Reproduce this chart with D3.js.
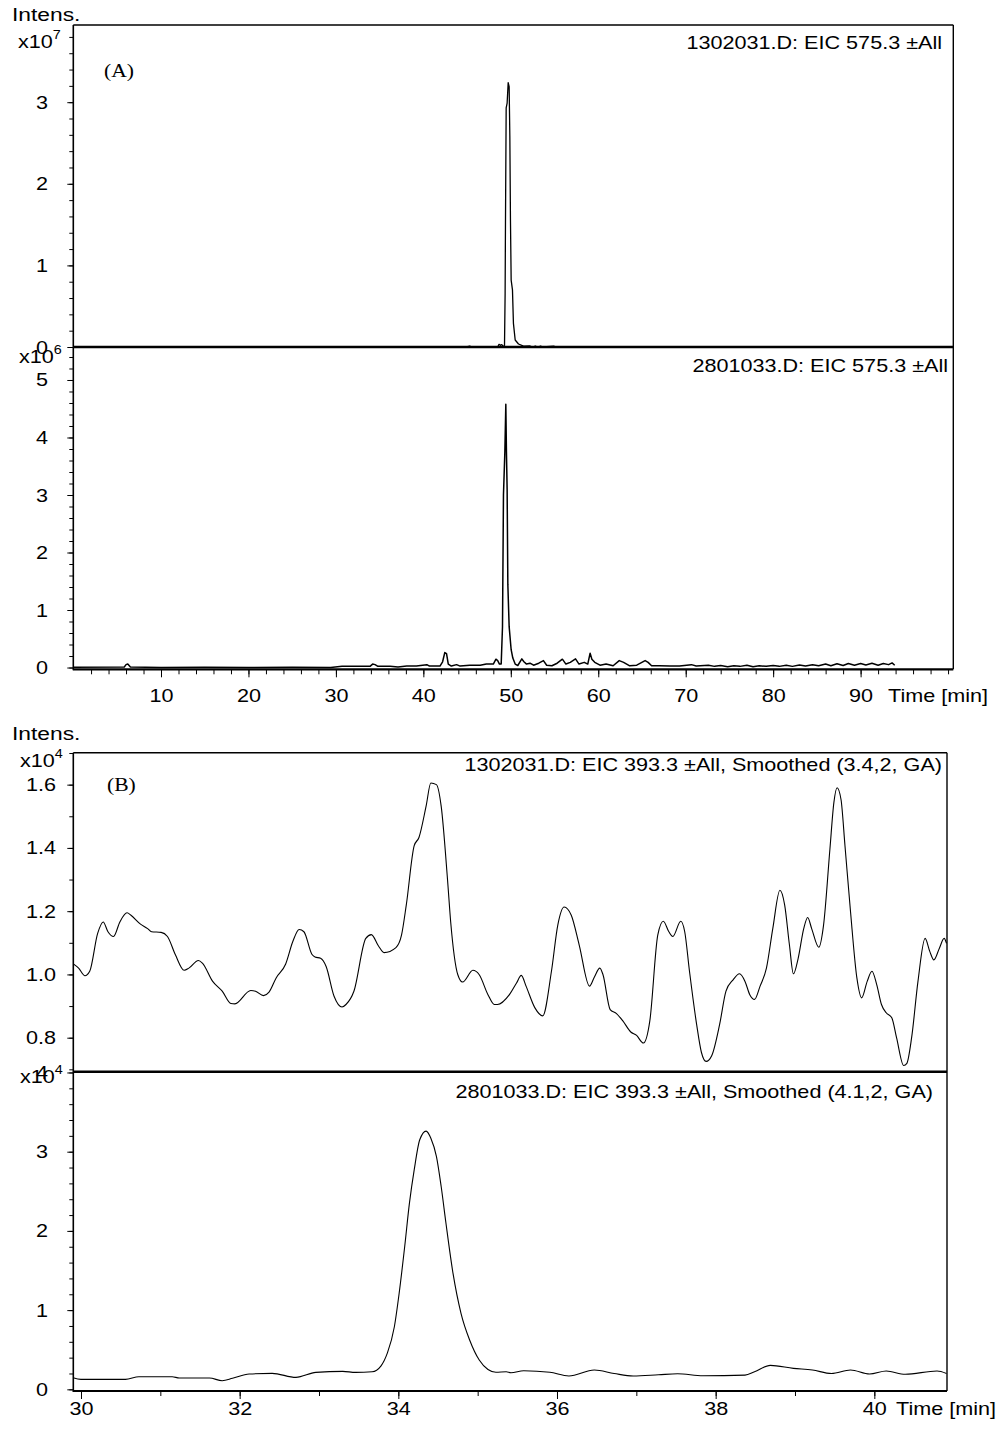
<!DOCTYPE html>
<html>
<head>
<meta charset="utf-8">
<script src="https://cdn.jsdelivr.net/npm/d3@7"></script>
<style>
    body { margin: 0; background: #fff; }
    svg text { font-family: 'Liberation Sans', Arial, Helvetica, sans-serif; fill: #000; }
</style>
</head>
<body>
<svg id="vis" width="999" height="1429"></svg>
<script>
// (A) EIC 575.3, sample 1302031.D, intensity x10^7
const timeA1 = [0, 44.9, 45.3, 45.6, 48.5, 48.65, 48.8, 48.97, 49.15, 49.28, 49.35, 49.39, 49.47, 49.58, 49.7, 49.81,
    49.89, 49.96, 50.04, 50.19, 50.3, 50.5, 50.88, 51.45, 52.2, 52.5, 52.8, 53.1, 53.4, 53.7, 54.9, 55.2, 93.9];
const intA1 = [0, 0, 0.012, 0, 0, 0.033, 0.02, 0.03, 0.005, 0.02, 0.66, 1.52, 2.93, 2.99, 3.24, 3.19,
    2.58, 1.56, 0.82, 0.7, 0.29, 0.086, 0.037, 0.01, 0.012, 0, 0.012, 0, 0.012, 0, 0.01, 0, 0];

// (A) EIC 575.3, sample 2801033.D, intensity x10^6
const timeA2 = [0, 5.8, 6.0, 6.2, 6.5, 10, 15, 20, 25, 29.4, 30.7, 33.9, 34.2, 34.48, 34.8, 36.2, 37.1, 38.1, 39.2,
    40.4, 40.7, 41.9, 42.2, 42.45, 42.65, 42.85, 43.2, 43.8, 44.2, 45.3, 46.5, 47.2, 48.0, 48.3, 48.5, 48.7, 48.9,
    49.05, 49.16, 49.32, 49.43, 49.5, 49.58, 49.66, 49.81, 50.04, 50.23, 50.5, 50.8, 51.26, 51.5, 51.8, 52.2, 52.6,
    53.2, 53.73, 54.1, 54.7, 55.3, 55.9, 56.3, 56.8, 57.4, 57.8, 58.4, 58.8, 59.07, 59.27, 59.6, 60.2, 60.9, 61.7,
    62.4, 62.9, 63.6, 64.4, 65.36, 65.7, 66.1, 67.0, 68.2, 69.3, 70.65, 71.2, 72.6, 73.3, 74, 74.8, 75.5, 76.2, 77,
    77.7, 78.4, 79.2, 80, 80.7, 81.5, 82.2, 83, 83.7, 84.5, 85.2, 86, 86.6, 87.3, 88, 88.6, 89.3, 90, 90.6, 91.3,
    92, 92.6, 93.2, 93.6, 93.9];
const intA2 = [0.005, 0.01, 0.05, 0.06, 0.01, 0, 0.005, 0, 0.005, 0, 0.02, 0.02, 0.06, 0.05, 0.02, 0.02, 0.01, 0.025, 0.025,
    0.05, 0.025, 0.025, 0.1, 0.26, 0.24, 0.06, 0.025, 0.05, 0.025, 0.04, 0.04, 0.06, 0.06, 0.145, 0.12, 0.06, 0.06,
    0.71, 3.0, 3.75, 4.58, 3.75, 3.1, 1.45, 0.71, 0.31, 0.165, 0.06, 0.035, 0.15, 0.1, 0.06, 0.075, 0.04,
    0.075, 0.12, 0.04, 0.03, 0.075, 0.145, 0.06, 0.09, 0.15, 0.06, 0.09, 0.06, 0.25, 0.145, 0.09, 0.04, 0.06, 0.03,
    0.12, 0.09, 0.03, 0.04, 0.12, 0.09, 0.03, 0.03, 0.025, 0.025, 0.05, 0.025, 0.04, 0.02, 0.035, 0.015, 0.03, 0.02, 0.04,
    0.015, 0.03, 0.02, 0.035, 0.02, 0.04, 0.02, 0.045, 0.025, 0.05, 0.03, 0.06, 0.03, 0.065, 0.035, 0.07, 0.04, 0.07, 0.045, 0.075,
    0.04, 0.07, 0.05, 0.08, 0.04];

// (B) EIC 393.3 smoothed, sample 1302031.D, intensity x10^4
const timeB1 = [29.89, 29.97, 30.05, 30.11, 30.21, 30.28, 30.34, 30.41, 30.49, 30.58, 30.63, 30.75, 30.84, 30.89, 31.01,
    31.09, 31.19, 31.3, 31.36, 31.48, 31.53, 31.66, 31.78, 31.89, 31.94, 32.14, 32.2, 32.3, 32.37, 32.46, 32.58, 32.67,
    32.75, 32.81, 32.91, 32.95, 33.02, 33.09, 33.19, 33.29, 33.34, 33.44, 33.59, 33.66, 33.75, 33.82, 33.97, 34.04,
    34.1, 34.2, 34.26, 34.35, 34.41, 34.48, 34.54, 34.62, 34.66, 34.75, 34.81, 34.94, 35.02, 35.13, 35.21, 35.25,
    35.4, 35.49, 35.55, 35.61, 35.72, 35.82, 35.93, 36.01, 36.09, 36.18, 36.28, 36.41, 36.47, 36.54, 36.58, 36.67,
    36.75, 36.83, 36.93, 37.0, 37.09, 37.17, 37.27, 37.34, 37.41, 37.46, 37.56, 37.61, 37.67, 37.76, 37.82, 37.88,
    37.95, 38.05, 38.13, 38.22, 38.3, 38.37, 38.43, 38.49, 38.56, 38.64, 38.72, 38.81, 38.87, 38.93, 38.98, 39.04,
    39.11, 39.16, 39.21, 39.3, 39.36, 39.44, 39.49, 39.53, 39.58, 39.63, 39.7, 39.78, 39.84, 39.91, 39.97, 40.03,
    40.09, 40.15, 40.22, 40.28, 40.37, 40.41, 40.47, 40.55, 40.64, 40.7, 40.75, 40.82, 40.88, 40.91];
const intB1 = [1.036, 1.02, 0.996, 1.01, 1.13, 1.166, 1.135, 1.12, 1.166, 1.195, 1.187, 1.159, 1.145, 1.135, 1.133,
    1.12, 1.062, 1.013, 1.02, 1.044, 1.036, 0.978, 0.947, 0.908, 0.907, 0.949, 0.947, 0.933, 0.944, 0.989, 1.033, 1.104,
    1.142, 1.135, 1.064, 1.055, 1.051, 1.025, 0.931, 0.897, 0.905, 0.947, 1.114, 1.126, 1.09, 1.069, 1.085, 1.124,
    1.219, 1.407, 1.433, 1.532, 1.605, 1.6, 1.532, 1.3, 1.166, 0.999, 0.976, 1.013, 0.999, 0.936, 0.905, 0.905,
    0.936, 0.973, 0.997, 0.963, 0.895, 0.869, 1.01, 1.156, 1.213, 1.187, 1.093, 0.963, 0.991, 1.02, 0.999, 0.889,
    0.876, 0.853, 0.818, 0.808, 0.783, 0.853, 1.124, 1.168, 1.135, 1.12, 1.168, 1.135, 1.01, 0.842, 0.754, 0.725,
    0.743, 0.842, 0.947, 0.983, 1.002, 0.978, 0.936, 0.921, 0.963, 1.02, 1.145, 1.266, 1.219, 1.093, 1.002, 1.051,
    1.145, 1.18, 1.145, 1.086, 1.156, 1.396, 1.543, 1.59, 1.553, 1.407, 1.198, 0.989, 0.926, 0.978, 1.01, 0.968,
    0.905, 0.879, 0.863, 0.8, 0.712, 0.719, 0.8, 0.978, 1.114, 1.072, 1.046, 1.083, 1.114, 1.098];

// (B) EIC 393.3 smoothed, sample 2801033.D, intensity x10^4
const timeB2 = [29.9, 30.0, 30.56, 30.73, 31.15, 31.24, 31.62, 31.78, 31.91, 32.12, 32.41, 32.71, 32.96, 33.3, 33.46,
    33.67, 33.78, 33.86, 33.95, 34.01, 34.08, 34.14, 34.2, 34.27, 34.35, 34.41, 34.48, 34.54, 34.6, 34.69, 34.79,
    34.9, 35.02, 35.13, 35.23, 35.36, 35.42, 35.58, 35.91, 36.15, 36.47, 36.72, 36.96, 37.28, 37.52, 37.84, 38.37,
    38.49, 38.69, 38.98, 39.22, 39.46, 39.7, 39.94, 40.15, 40.39, 40.79, 40.91];
const intB2 = [0.146, 0.126, 0.126, 0.159, 0.159, 0.143, 0.143, 0.109, 0.139, 0.193, 0.202, 0.151, 0.214, 0.227, 0.214,
    0.222, 0.294, 0.454, 0.79, 1.21, 1.8, 2.35, 2.77, 3.15, 3.26, 3.17, 2.94, 2.56, 2.1, 1.46, 0.96,
    0.62, 0.37, 0.25, 0.215, 0.222, 0.21, 0.235, 0.215, 0.168, 0.244, 0.2, 0.168, 0.184, 0.197, 0.172, 0.18,
    0.222, 0.303, 0.265, 0.244, 0.2, 0.244, 0.193, 0.231, 0.19, 0.231, 0.2];

const labelsA = ['1302031.D: EIC 575.3 \u00b1All', '2801033.D: EIC 575.3 \u00b1All'];
const labelsB = ['1302031.D: EIC 393.3 \u00b1All, Smoothed (3.4,2, GA)', '2801033.D: EIC 393.3 \u00b1All, Smoothed (4.1,2, GA)'];
const exponentsA = ['7', '6'];
const exponentsB = ['4', '4'];

const SX = 1.2;   // the source image is stretched horizontally
var svg = d3.select('#vis');

function tickRange(lo, hi, step) {
    var out = [];
    for (var n = Math.ceil(lo / step - 1e-6); n * step <= hi + 1e-6; n++) {
        out.push(+(n * step).toFixed(3));
    }
    return out;
}

function putText(x, y, str, anchor, size, serif) {
    return svg.append('text')
        .attr('transform', 'translate(' + x + ',' + y + ') scale(' + SX + ',1)')
        .attr('text-anchor', anchor)
        .attr('font-size', size)
        .style('font-family', serif ? "'Liberation Serif', 'Times New Roman', serif" : null)
        .text(str);
}

function putExponent(x, y, exp) {
    var t = svg.append('text')
        .attr('transform', 'translate(' + x + ',' + y + ') scale(' + SX + ',1)')
        .attr('font-size', 18);
    t.append('tspan').text('x10');
    t.append('tspan').attr('dy', -9).attr('font-size', 12).text(exp);
}

function yAxis(y, axisX, minorStep, majorStep, fmt, labelX) {
    var d = y.domain();
    svg.append('g')
        .attr('transform', 'translate(' + axisX + ',0)')
        .call(d3.axisLeft(y).tickValues(tickRange(d[0], d[1], minorStep)).tickSize(4).tickFormat(''))
        .call(g => g.select('.domain').remove());
    var major = svg.append('g')
        .attr('transform', 'translate(' + axisX + ',0)')
        .call(d3.axisLeft(y).tickValues(tickRange(d[0], d[1], majorStep)).tickSize(6).tickFormat(fmt))
        .attr('font-size', 18);
    major.select('.domain').remove();
    major.selectAll('text')
        .attr('x', null)
        .attr('dy', null)
        .attr('text-anchor', 'middle')
        .attr('transform', 'translate(' + (labelX - axisX) + ',6) scale(' + SX + ',1)');
}

function xAxis(x, axisY, minorVals, majorVals, labelOffset) {
    svg.append('g')
        .attr('transform', 'translate(0,' + axisY + ')')
        .call(d3.axisBottom(x).tickValues(minorVals).tickSize(5).tickFormat(''))
        .call(g => g.select('.domain').remove());
    var major = svg.append('g')
        .attr('transform', 'translate(0,' + axisY + ')')
        .call(d3.axisBottom(x).tickValues(majorVals).tickSize(8).tickFormat(d3.format('d')))
        .attr('font-size', 18);
    major.select('.domain').remove();
    major.selectAll('text')
        .attr('y', null)
        .attr('dy', null)
        .attr('transform', 'translate(0,' + labelOffset + ') scale(' + SX + ',1)');
}

function trace(x, y, times, values, curve, width, clipId) {
    var pts = times.map((t, i) => [t, values[i]]);
    svg.append('path')
        .datum(pts)
        .attr('clip-path', 'url(#' + clipId + ')')
        .attr('fill', 'none')
        .attr('stroke', '#000')
        .attr('stroke-width', width)
        .attr('stroke-linejoin', 'round')
        .attr('d', d3.line().x(d => x(d[0])).y(d => y(d[1])).curve(curve));
}

function frame(left, right, top, mid, bottom, clipId) {
    svg.append('clipPath').attr('id', clipId)
        .append('rect').attr('x', left).attr('y', top).attr('width', right - left).attr('height', bottom - top);
    var lines = [
        [left, top, right, top, 1.4],
        [right, top, right, bottom, 1.4],
        [left, top, left, bottom + 1, 1.6],
        [left, mid, right, mid, 2.4],
        [left, bottom, right, bottom, 2.2]
    ];
    svg.selectAll(null)
        .data(lines)
        .enter()
        .append('line')
        .attr('x1', d => d[0]).attr('y1', d => d[1])
        .attr('x2', d => d[2]).attr('y2', d => d[3])
        .attr('stroke', '#000')
        .attr('stroke-width', d => d[4]);
}

// ---------- panel A ----------
var xA = d3.scaleLinear().domain([-0.03, 100.6]).range([73.3, 953.3]);
var yA1 = d3.scaleLinear().domain([0, 3.946]).range([347, 25]);
var yA2 = d3.scaleLinear().domain([-0.031, 5.579]).range([669.3, 346.7]);

trace(xA, yA1, timeA1, intA1, d3.curveLinear, 1.3, 'clipA');
trace(xA, yA2, timeA2, intA2, d3.curveLinear, 1.5, 'clipA');
frame(73.3, 953.3, 25, 347, 669.3, 'clipA');

yAxis(yA1, 73.3, 0.2, 1, d3.format('d'), 42);
yAxis(yA2, 73.3, 0.2, 1, d3.format('d'), 42);
xAxis(xA, 669.3, tickRange(2, 100, 2), tickRange(10, 90, 10), 33);

putText(12, 21, 'Intens.', 'start', 19);
putExponent(18, 48, exponentsA[0]);
putExponent(19, 363, exponentsA[1]);
putText(104, 77, '(A)', 'start', 18, true);
putText(942, 49, labelsA[0], 'end', 18);
putText(948, 372, labelsA[1], 'end', 18);
putText(888, 702, 'Time [min]', 'start', 18);

// ---------- panel B ----------
var xB = d3.scaleLinear().domain([29.903, 40.916]).range([73.3, 947]);
var yB1 = d3.scaleLinear().domain([0.6925, 1.701]).range([1071.7, 752.7]);
var yB2 = d3.scaleLinear().domain([-0.021, 4.006]).range([1391, 1072]);

trace(xB, yB1, timeB1, intB1, d3.curveMonotoneX, 1.1, 'clipB');
trace(xB, yB2, timeB2, intB2, d3.curveMonotoneX, 1.1, 'clipB');
frame(73.3, 947, 752.7, 1071.7, 1391, 'clipB');

yAxis(yB1, 73.3, 0.1, 0.2, d3.format('.1f'), 41);
yAxis(yB2, 73.3, 0.2, 1, d3.format('d'), 42);
xAxis(xB, 1391, tickRange(31, 40, 1), tickRange(30, 40, 2), 24);

putText(12, 740, 'Intens.', 'start', 19);
putExponent(20, 767, exponentsB[0]);
putExponent(20, 1083, exponentsB[1]);
putText(107, 791, '(B)', 'start', 18, true);
putText(942, 771, labelsB[0], 'end', 18);
putText(933, 1098, labelsB[1], 'end', 18);
putText(896, 1415, 'Time [min]', 'start', 18);
</script>
</body>
</html>
